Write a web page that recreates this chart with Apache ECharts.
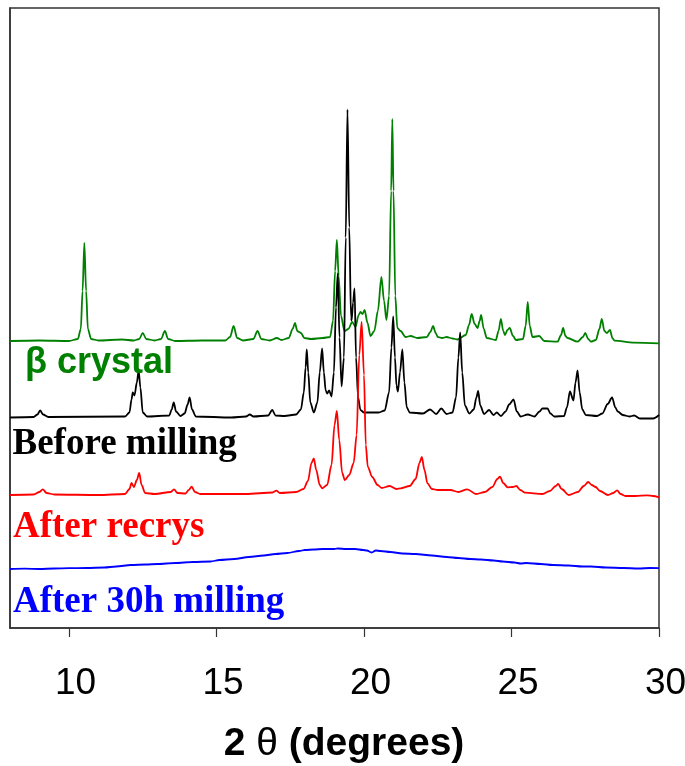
<!DOCTYPE html>
<html>
<head>
<meta charset="utf-8">
<title>XRD patterns</title>
<script src="https://cdn.jsdelivr.net/npm/echarts@6/dist/echarts.min.js"></script>
<style>
  html, body { margin: 0; padding: 0; background: #fff; }
  #chart { width: 685px; height: 766px; }
</style>
</head>
<body>
<div id="chart"></div>
<script>
// Diffraction patterns: [2θ (degrees), intensity above the trace's own baseline]
const betaCrystal = [
  [8.00, 0], [9.00, 0.5], [10.00, 0], [10.30, 2], [10.40, 12], [10.46, 50], [10.52, 98],
  [10.58, 50], [10.64, 12], [10.75, 2], [11.00, 0.5], [11.80, 1.5], [12.20, 0.5],
  [12.38, 2], [12.50, 8], [12.62, 2], [12.90, 0.5], [13.12, 2], [13.25, 10], [13.36, 2],
  [13.60, 0], [14.50, 0.5], [15.30, 0.5], [15.46, 4], [15.58, 15], [15.70, 3], [15.90, 0.5],
  [16.25, 2], [16.39, 10], [16.52, 2], [16.80, 0.5], [17.05, 3], [17.20, 1], [17.45, 3],
  [17.58, 12], [17.66, 18], [17.74, 10], [17.80, 9], [17.86, 8], [17.98, 3], [18.20, 2],
  [18.60, 3], [18.85, 4], [18.95, 20], [19.02, 70], [19.08, 101], [19.14, 65], [19.22, 25],
  [19.34, 10], [19.47, 12], [19.60, 19], [19.71, 14], [19.82, 26], [19.88, 29], [19.95, 27],
  [20.02, 31], [20.12, 18], [20.22, 5], [20.35, 10], [20.47, 30], [20.59, 64], [20.68, 40],
  [20.76, 21], [20.85, 45], [20.92, 150], [20.96, 222], [21.00, 150], [21.06, 45],
  [21.13, 13], [21.24, 10], [21.41, 4], [21.58, 5], [21.81, 3], [22.13, 4], [22.25, 9],
  [22.34, 15], [22.43, 8], [22.50, 4], [22.65, 3], [22.80, 4], [23.00, 2.5], [23.17, 1.5],
  [23.45, 6], [23.56, 16], [23.65, 27], [23.75, 17], [23.85, 13], [23.92, 20], [23.97, 26],
  [24.06, 12], [24.16, 3], [24.47, 1], [24.56, 10], [24.64, 22], [24.72, 10], [24.78, 6],
  [24.86, 11], [24.94, 13], [25.05, 5], [25.15, 1], [25.39, 2], [25.48, 15], [25.55, 39],
  [25.62, 15], [25.71, 4], [25.94, 5], [26.11, 0], [26.56, -0.7], [26.68, 6], [26.75, 13],
  [26.83, 5], [26.90, 3], [27.24, -0.7], [27.42, 4], [27.50, 8], [27.60, 2], [27.69, -0.7],
  [27.86, 1], [27.98, 12], [28.06, 22], [28.15, 10], [28.23, 8], [28.34, 11], [28.42, 3],
  [28.49, 0.3], [29.15, -1.7], [30.00, -2.3]
];

const beforeMilling = [
  [8.00, 0], [8.80, 0.5], [8.93, 3], [9.02, 7], [9.12, 3], [9.30, 0.5], [11.90, 1],
  [12.05, 5], [12.12, 18], [12.16, 25], [12.22, 22], [12.30, 35], [12.36, 47], [12.42, 30],
  [12.50, 5], [12.65, 1], [13.40, 2], [13.48, 8], [13.55, 15], [13.63, 6], [13.78, 1.5],
  [13.92, 4], [14.02, 13], [14.09, 20], [14.17, 8], [14.30, 1], [15.50, 0], [16.00, 1],
  [16.13, 3], [16.25, 1], [16.75, 2], [16.89, 7.5], [17.00, 2], [17.30, 1.5], [17.70, 3],
  [17.86, 8], [17.96, 25], [18.02, 50], [18.06, 68], [18.11, 45], [18.18, 15], [18.30, 5],
  [18.42, 15], [18.50, 45], [18.58, 69], [18.64, 45], [18.70, 27], [18.75, 24], [18.82, 27],
  [18.90, 21], [18.98, 45], [19.05, 110], [19.11, 144], [19.17, 80], [19.24, 31], [19.32, 60],
  [19.38, 180], [19.44, 308], [19.50, 190], [19.56, 100], [19.58, 97], [19.63, 115],
  [19.68, 129], [19.73, 60], [19.80, 20], [19.88, 7.5], [20.00, 5], [20.50, 5], [20.70, 7],
  [20.85, 25], [20.93, 70], [20.99, 101], [21.05, 60], [21.10, 32], [21.15, 26], [21.22, 45],
  [21.30, 68], [21.37, 35], [21.45, 10], [21.55, 5], [22.00, 4], [22.24, 8], [22.45, 3.5],
  [22.62, 9], [22.80, 3.5], [23.00, 5], [23.12, 20], [23.20, 60], [23.26, 85], [23.33, 45],
  [23.42, 12], [23.57, 4], [23.72, 8], [23.81, 20], [23.87, 26.5], [23.94, 12], [24.07, 3.5],
  [24.24, 7.5], [24.39, 2.5], [24.50, 5], [24.64, 1.5], [24.80, 6], [24.92, 13], [25.07, 18],
  [25.18, 6], [25.31, 1], [25.55, 3], [25.78, 1], [25.95, 6], [26.05, 9], [26.22, 9],
  [26.32, 4], [26.45, 1], [26.78, 1.5], [26.88, 10], [26.98, 26], [27.10, 17], [27.17, 35],
  [27.24, 47], [27.31, 25], [27.40, 8], [27.52, 2.5], [27.90, 1.5], [28.08, 4], [28.26, 13.5],
  [28.41, 20], [28.52, 10], [28.60, 6], [28.77, 2.5], [29.00, 1], [29.16, 2], [29.35, -1],
  [29.80, -1], [30.00, 2.5]
];

const afterRecrys = [
  [8.00, 0], [8.80, 0.5], [9.00, 3], [9.11, 5.7], [9.24, 2], [9.50, 0.5], [11.00, 0],
  [11.90, 1], [12.05, 6], [12.12, 12], [12.20, 8], [12.30, 15], [12.38, 22], [12.46, 10],
  [12.58, 2], [12.90, 1], [13.45, 3], [13.56, 5.7], [13.68, 2], [13.95, 1.5], [14.06, 5],
  [14.16, 8.3], [14.27, 3], [14.45, 1], [16.00, 1], [16.90, 2.5], [17.03, 4.3], [17.15, 2],
  [17.70, 3], [17.95, 6], [18.10, 14], [18.22, 32], [18.30, 36.7], [18.38, 25], [18.50, 10],
  [18.58, 6.7], [18.75, 10], [18.90, 30], [19.00, 70], [19.08, 84], [19.16, 55], [19.26, 22],
  [19.35, 15], [19.50, 20], [19.65, 32], [19.75, 60], [19.84, 140], [19.92, 173], [20.00, 120],
  [20.06, 50], [20.13, 28], [20.28, 18], [20.46, 10], [20.60, 7], [20.87, 9], [21.10, 6],
  [21.24, 6.7], [21.55, 9], [21.75, 16], [21.88, 32], [21.96, 38], [22.05, 25], [22.15, 11.7],
  [22.30, 6], [22.50, 5], [22.93, 5], [23.20, 3], [23.50, 5.7], [23.80, 1], [24.10, 3],
  [24.35, 8], [24.52, 16], [24.61, 18.3], [24.72, 12], [24.87, 7.7], [25.05, 8], [25.16, 9],
  [25.30, 5], [25.46, 2.3], [26.05, 1], [26.30, 4], [26.50, 9], [26.58, 11], [26.70, 6],
  [26.94, 0], [27.25, 3], [27.45, 9], [27.60, 13], [27.72, 10], [27.85, 8], [28.00, 4],
  [28.27, 0], [28.45, 2], [28.58, 4.7], [28.70, 1], [28.86, -1], [29.20, -1], [29.60, -0.3],
  [29.80, -1], [30.00, -2.3]
];

const after30hMilling = [
  [8.00, 0], [8.50, 0.3], [9.00, 0], [9.50, 0.5], [10.00, 0.8], [10.60, 1], [11.20, 1.5],
  [11.60, 2.5], [12.10, 4], [12.60, 4.5], [13.00, 5], [13.60, 6], [14.20, 7], [14.80, 7.5],
  [15.10, 9], [15.60, 10], [16.10, 12], [16.60, 13.5], [17.00, 15], [17.40, 16], [17.80, 18],
  [18.00, 19], [18.30, 19.5], [18.60, 20], [19.00, 20], [19.10, 20.5], [19.40, 20],
  [19.70, 20], [19.97, 19], [20.10, 18.5], [20.26, 16.5], [20.40, 18.5], [20.56, 18],
  [20.90, 17], [21.30, 15.5], [21.75, 15], [22.30, 13.5], [22.80, 12], [23.20, 11],
  [23.60, 10], [23.96, 9.5], [24.40, 8.5], [24.70, 7.5], [25.10, 6.5], [25.31, 5.5],
  [25.50, 6], [26.00, 5], [26.40, 4], [26.94, 3.5], [27.40, 2.5], [27.70, 2.5], [28.20, 1.5],
  [28.80, 1], [29.30, 0.5], [29.70, 1], [30.00, 0.8]
];

const xTickValues = [10, 15, 20, 25, 30];

// Vertical stacking of the four traces (a.u.)
const STACK = { blue: 59, red: 133, black: 210.5, green: 287 };

const lift = (pts, dy) => pts.map(([t, v]) => [t, v + dy]);

const SANS = '"Liberation Sans", Arial, sans-serif';
const SERIF = '"Liberation Serif", "Times New Roman", serif';
const AXIS_COLOR = '#333';

function trace(name, pts, dy, color) {
  return {
    name, type: 'line', data: lift(pts, dy),
    showSymbol: false, symbol: 'none',
    smooth: 0.3, smoothMonotone: 'x',
    lineStyle: { color, width: 1.8 }, silent: true, animation: false
  };
}

const chart = echarts.init(document.getElementById('chart'), null, { renderer: 'canvas' });
chart.setOption({
  backgroundColor: '#fff',
  animation: false,
  grid: {
    left: 10, right: 26, top: 8, bottom: 138,
    outerBoundsMode: 'none', containLabel: false,
    show: true, borderColor: AXIS_COLOR, borderWidth: 1.5, backgroundColor: 'transparent'
  },
  xAxis: {
    type: 'value', min: 8, max: 30,
    axisLine: { show: true, lineStyle: { color: AXIS_COLOR, width: 1.5 } },
    axisTick: { show: true, inside: false, length: 9, customValues: xTickValues,
      lineStyle: { color: AXIS_COLOR, width: 1.2 } },
    axisLabel: { show: true, customValues: xTickValues, margin: 37, hideOverlap: false,
      fontFamily: SANS, fontSize: 37, color: '#000', lineHeight: 37, padding: [0, 0, 0, 13] },
    splitLine: { show: false },
    name: '{b|2 }{t|θ}{b| (degrees)}',
    nameLocation: 'middle', nameGap: 97,
    nameTextStyle: {
      padding: [0, 0, 0, 19],
      rich: {
        b: { fontFamily: SANS, fontWeight: 'bold', fontSize: 39, color: '#000', lineHeight: 39 },
        t: { fontFamily: SANS, fontWeight: 'normal', fontSize: 39, color: '#000', lineHeight: 39 }
      }
    }
  },
  yAxis: {
    type: 'value', min: 0, max: 620,
    axisLine: { show: true, lineStyle: { color: AXIS_COLOR, width: 1.5 } },
    axisTick: { show: false }, axisLabel: { show: false }, splitLine: { show: false }
  },
  series: [
    trace('After 30h milling', after30hMilling, STACK.blue, '#0000ff'),
    trace('β crystal', betaCrystal, STACK.green, '#008000'),
    trace('Before milling', beforeMilling, STACK.black, '#000000'),
    trace('After recrys', afterRecrys, STACK.red, '#ff0000')
  ],
  graphic: [
    { type: 'text', left: 25, top: 345, z: 100,
      style: { text: 'β crystal', font: 'bold 36px ' + SANS, fill: '#008000' } },
    { type: 'text', left: 12.5, top: 426, z: 100,
      style: { text: 'Before milling', font: 'bold 37px ' + SERIF, fill: '#000000' } },
    { type: 'text', left: 13, top: 509, z: 100,
      style: { text: 'After recrys', font: 'bold 37px ' + SERIF, fill: '#ff0000' } },
    { type: 'text', left: 13, top: 584, z: 100,
      style: { text: 'After 30h milling', font: 'bold 37px ' + SERIF, fill: '#0000ff' } }
  ]
});
</script>
</body>
</html>
